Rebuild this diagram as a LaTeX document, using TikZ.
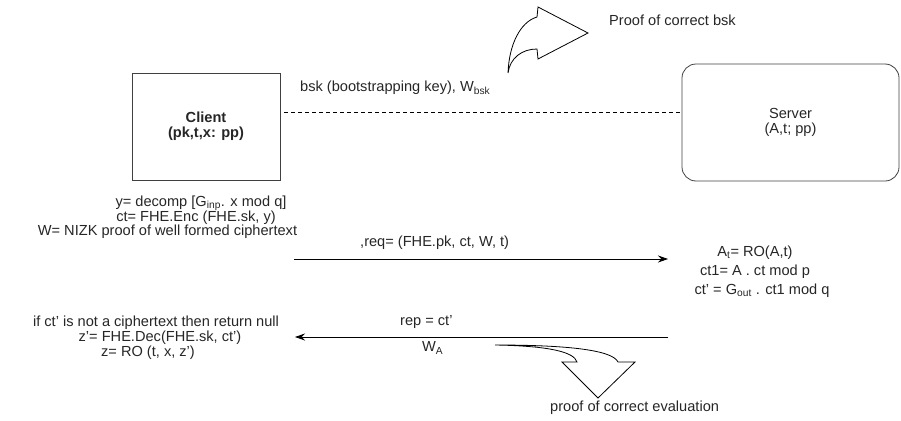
\documentclass[tikz,border=0pt]{standalone}
\usepackage{fontspec}
\setmainfont{Liberation Sans}
\usetikzlibrary{arrows.meta}
\begin{document}
\begin{tikzpicture}[x=1pt,y=-1pt,
  txt/.style={inner sep=0pt,font=\fontsize{14.6}{15}\selectfont,text=black!85},
  party/.style={draw=black!75,line width=0.8pt,inner sep=0pt,font=\fontsize{14.6}{15}\selectfont,align=center,text=black!85},
  msg/.style={draw=black,line width=0.8pt,-{Stealth[length=10pt,width=7pt]}},
  bigarrow/.style={draw=black,line width=0.8pt,line join=miter,fill=white}]
\useasboundingbox (0,0) rectangle (901,420);
% parties
\node[party,minimum width=148pt,minimum height=107pt,font=\fontsize{14.6}{15}\selectfont\bfseries] (client) at (206,126.5) {Client\\(pk,t,x: pp)};
\node[party,rounded corners=14pt,minimum width=217pt,minimum height=117pt] (server) at (790.5,122.5) {Server\\(A,t; pp)};
% bootstrapping key
\coordinate (dashy) at (0,112);
\draw[dashed,line width=0.7pt,dash pattern=on 4pt off 3pt] ([xshift=4pt]client.east |- dashy) -- (server.west |- dashy);
\node[txt,anchor=west] (bsk) at (300,88) {bsk (bootstrapping key), W\textsubscript{bsk}};
\draw[bigarrow] (508,73) .. controls (509,45) and (520,22) .. (537,17) -- (538,7) -- (588,33) -- (538,59) -- (537,49) .. controls (522,49) and (510,58) .. (508,73) -- cycle;
\node[txt,anchor=west] (pbsk) at (609,20) {Proof of correct bsk};
% client computation
\node[txt] (l1) at (201,203) {y= decomp [G\textsubscript{inp}. x mod q]};
\node[txt] (l2) at (196,217.5) {ct= FHE.Enc (FHE.sk, y)};
\node[txt] (l3) at (167.5,232) {W= NIZK proof of well formed ciphertext};
% request
\coordinate (reqs) at (294,259);
\coordinate (reqe) at (668,259);
\draw[msg] (reqs) -- (reqe);
\node[txt,anchor=west] (req) at (360,243) {,req= (FHE.pk, ct, W, t)};
% server computation
\node[txt] (r1) at (755,253) {A\textsubscript{t}= RO(A,t)};
\node[txt] (r2) at (755,272) {ct1= A . ct mod p};
\node[txt] (r3) at (762,290.5) {ct' = G\textsubscript{out} . ct1 mod q};
% reply
\coordinate (reps) at (668,337);
\coordinate (repe) at (295,337);
\draw[msg] (reps) -- (repe);
\node[txt,anchor=west] (rep) at (400,322) {rep = ct'};
\node[txt,anchor=west] (wa) at (422,348) {W\textsubscript{A}};
\draw[bigarrow] (495,345) .. controls (560,345) and (612,349) .. (618,362) -- (635,362) -- (598,398) -- (562,362) -- (577,362) .. controls (574,352) and (550,346) .. (495,345) -- cycle;
\node[txt,anchor=west] (pev) at (550,408) {proof of correct evaluation};
% client output
\node[txt] (o1) at (156,323) {if ct' is not a ciphertext then return null};
\node[txt] (o2) at (160,338) {z'= FHE.Dec(FHE.sk, ct')};
\node[txt] (o3) at (148,353) {z= RO (t, x, z')};
\end{tikzpicture}
\end{document}
